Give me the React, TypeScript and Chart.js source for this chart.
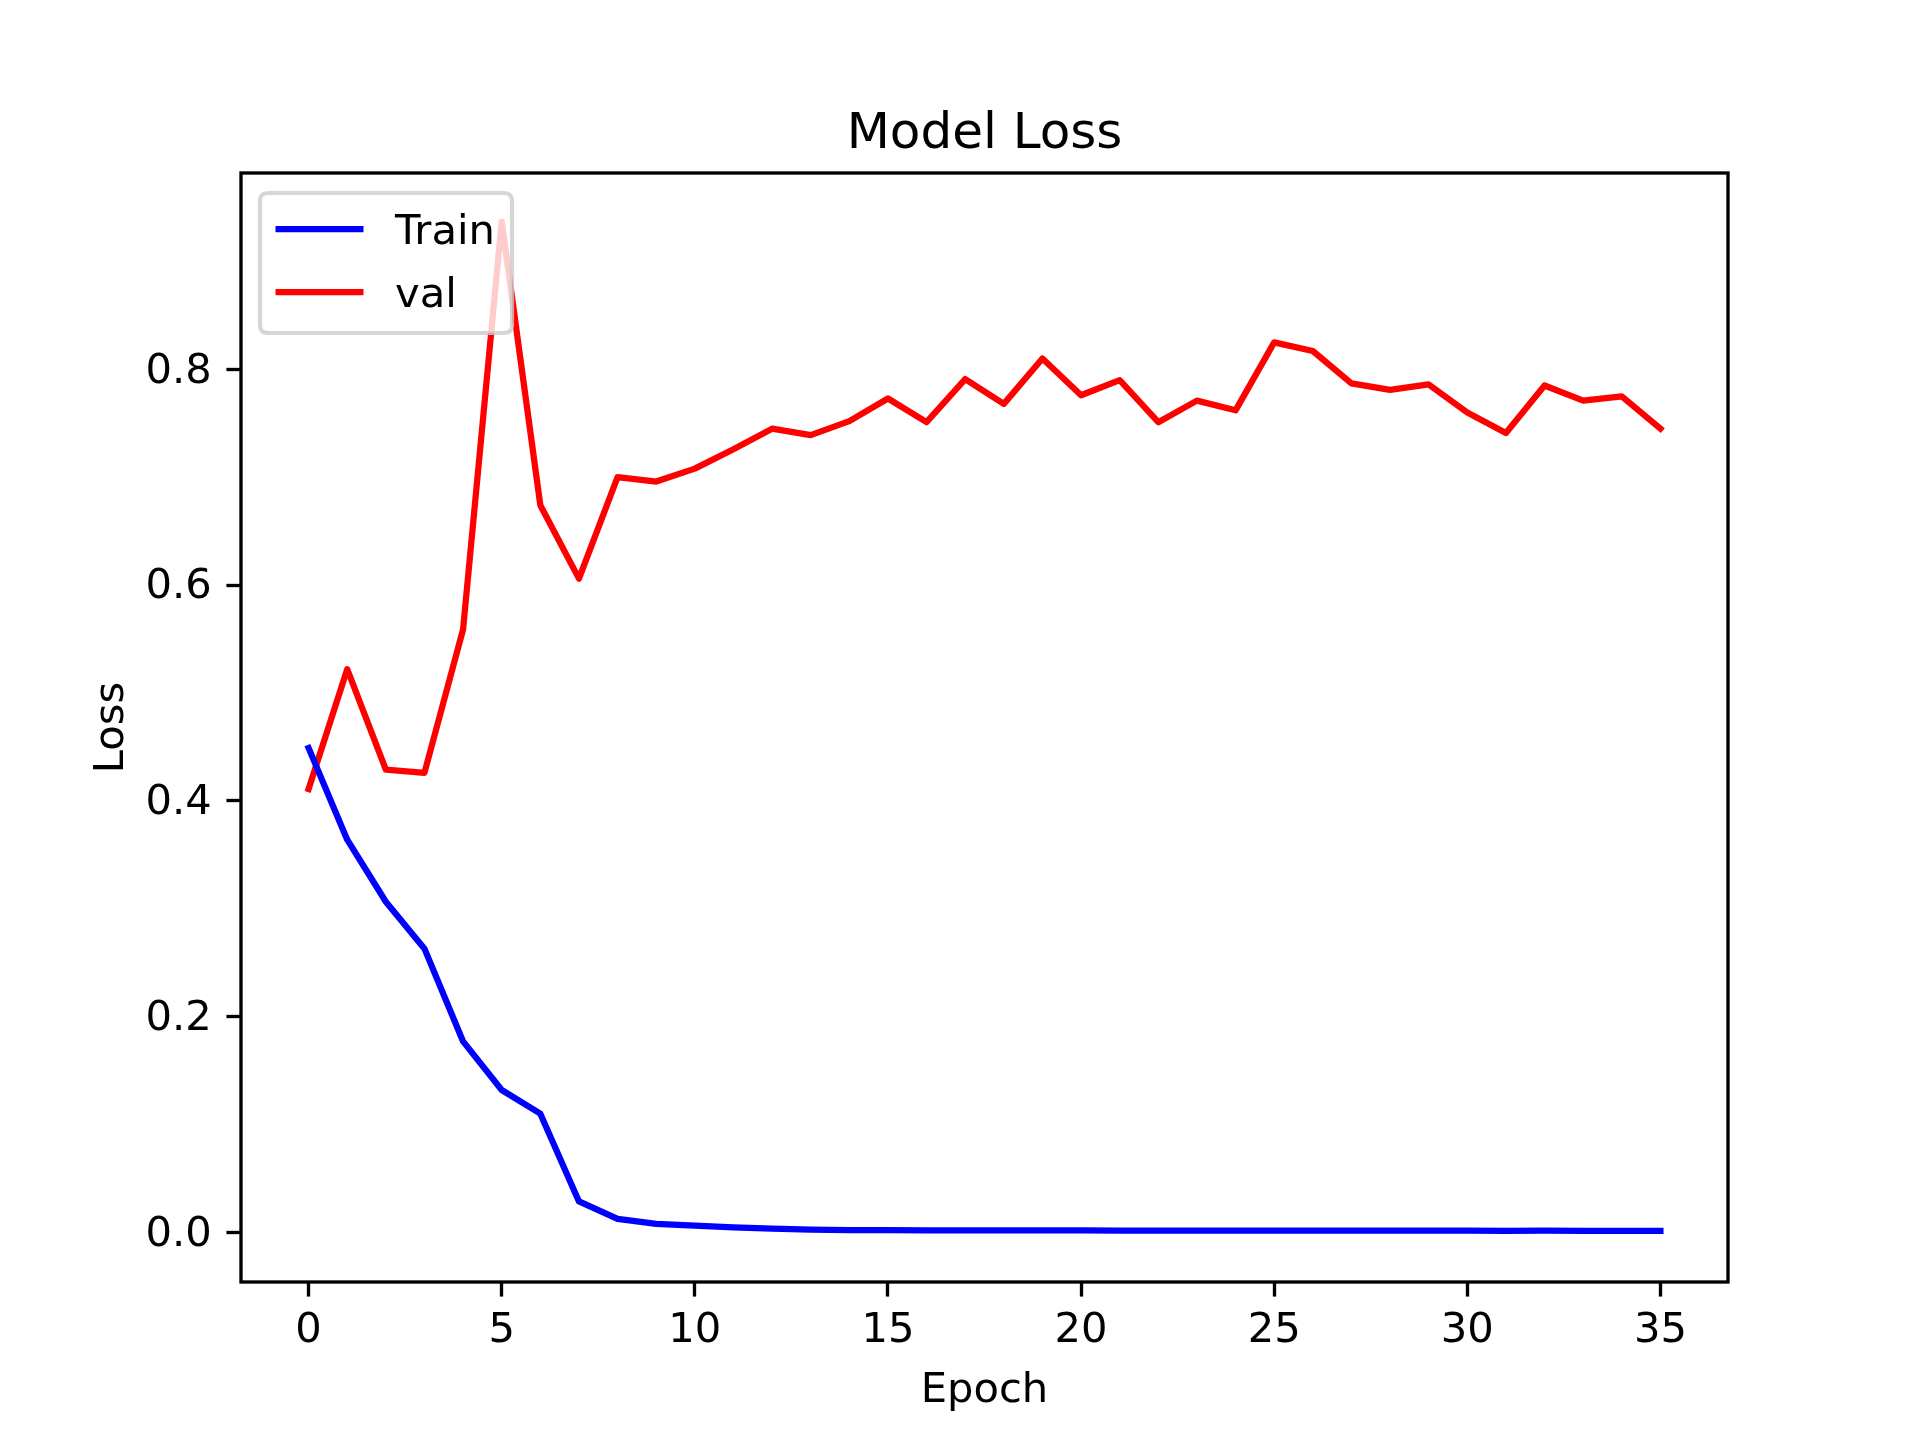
import React, { useEffect, useRef } from "react";
import { Chart, registerables } from "chart.js";

Chart.register(...registerables);

const epochs = [0, 1, 2, 3, 4, 5, 6, 7, 8, 9, 10, 11, 12, 13, 14, 15, 16, 17, 18, 19, 20, 21, 22, 23, 24, 25, 26, 27, 28, 29, 30, 31, 32, 33, 34, 35];
const trainLoss = [0.449, 0.364, 0.3065, 0.263, 0.177, 0.132, 0.110, 0.0287, 0.0125, 0.0078, 0.0062, 0.0046, 0.0034, 0.0025, 0.0022, 0.0020, 0.0019, 0.0019, 0.0018, 0.0018, 0.0018, 0.0017, 0.0017, 0.0017, 0.0017, 0.0016, 0.0016, 0.0016, 0.0016, 0.0016, 0.0016, 0.0015, 0.0016, 0.0015, 0.0015, 0.0015];
const valLoss = [0.411, 0.522, 0.429, 0.426, 0.559, 0.937, 0.674, 0.606, 0.700, 0.696, 0.708, 0.726, 0.745, 0.739, 0.752, 0.773, 0.751, 0.791, 0.768, 0.810, 0.776, 0.790, 0.751, 0.771, 0.762, 0.825, 0.817, 0.787, 0.781, 0.786, 0.760, 0.741, 0.785, 0.771, 0.775, 0.745];
const xTicks = [0, 5, 10, 15, 20, 25, 30, 35];
const yTicks = [0.0, 0.2, 0.4, 0.6, 0.8];
const seriesLabels = ["Train", "val"];
const seriesColors = ["#0000ff", "#ff0000"];
const titleText = "Model Loss";
const xTitle = "Epoch";
const yTitle = "Loss";

const FONT = "'DejaVu Sans', 'Liberation Sans', sans-serif";
const PT = 300 / 72;

const decorPlugin = {
  id: "decor",
  afterDatasetsDraw(chart: any) {
    const ctx = chart.ctx;
    const a = chart.chartArea;
    ctx.save();
    // spines
    ctx.strokeStyle = "#000";
    ctx.lineWidth = 0.8 * PT;
    ctx.strokeRect(a.left, a.top, a.right - a.left, a.bottom - a.top);

    // legend
    const lx = 260, ly = 193, lw = 252, lh = 140, r = 8;
    ctx.beginPath();
    ctx.moveTo(lx + r, ly);
    ctx.lineTo(lx + lw - r, ly);
    ctx.quadraticCurveTo(lx + lw, ly, lx + lw, ly + r);
    ctx.lineTo(lx + lw, ly + lh - r);
    ctx.quadraticCurveTo(lx + lw, ly + lh, lx + lw - r, ly + lh);
    ctx.lineTo(lx + r, ly + lh);
    ctx.quadraticCurveTo(lx, ly + lh, lx, ly + lh - r);
    ctx.lineTo(lx, ly + r);
    ctx.quadraticCurveTo(lx, ly, lx + r, ly);
    ctx.closePath();
    ctx.fillStyle = "rgba(255,255,255,0.8)";
    ctx.fill();
    ctx.strokeStyle = "rgba(204,204,204,0.8)";
    ctx.lineWidth = 1.0 * PT;
    ctx.stroke();

    const rowsY = [229, 292];
    const baseY = [243.5, 306.5];
    chart.data.datasets.forEach((ds: any, i: number) => {
      ctx.beginPath();
      ctx.strokeStyle = ds.borderColor;
      ctx.lineWidth = 1.5 * PT;
      ctx.lineCap = "butt";
      ctx.moveTo(275.5, rowsY[i]);
      ctx.lineTo(363.5, rowsY[i]);
      ctx.stroke();
      ctx.fillStyle = "#000";
      ctx.font = `${10 * PT}px ${FONT}`;
      ctx.textAlign = "left";
      ctx.textBaseline = "alphabetic";
      ctx.fillText(ds.label, 395, baseY[i]);
    });
    ctx.restore();
  },
  afterDraw(chart: any) {
    const ctx = chart.ctx;
    const a = chart.chartArea;
    const cx = (a.left + a.right) / 2;
    const cy = (a.top + a.bottom) / 2;
    ctx.save();
    ctx.fillStyle = "#000";
    ctx.textBaseline = "alphabetic";
    ctx.textAlign = "center";
    ctx.font = `${12 * PT}px ${FONT}`;
    ctx.fillText(titleText, cx, 148);
    ctx.font = `${10 * PT}px ${FONT}`;
    ctx.fillText(xTitle, cx, 1401.5);
    ctx.translate(122.7, cy);
    ctx.rotate(-Math.PI / 2);
    ctx.fillText(yTitle, 0, 0);
    ctx.restore();
  },
};

export default function App() {
  const ref = useRef<HTMLCanvasElement | null>(null);
  useEffect(() => {
    if (!ref.current) return;
    const series = [trainLoss, valLoss];
    const chart = new Chart(ref.current, {
      type: "line",
      data: {
        datasets: series.map((vals, i) => ({
          label: seriesLabels[i],
          data: epochs.map((e, j) => ({ x: e, y: vals[j] })),
          borderColor: seriesColors[i],
          backgroundColor: seriesColors[i],
          borderWidth: 1.5 * PT,
          borderJoinStyle: "round" as const,
          borderCapStyle: "square" as const,
          pointRadius: 0,
          tension: 0,
          fill: false,
        })),
      },
      options: {
        animation: false,
        responsive: false,
        devicePixelRatio: 1,
        layout: { padding: { left: 0, top: 173, right: 192, bottom: 0 } },
        plugins: { legend: { display: false }, title: { display: false }, tooltip: { enabled: false } },
        scales: {
          x: {
            type: "linear",
            min: -1.75,
            max: 36.75,
            afterFit: (s: any) => { s.height = 158; },
            afterBuildTicks: (s: any) => { s.ticks = xTicks.map((v) => ({ value: v })); },
            grid: { display: true, drawOnChartArea: false, drawTicks: true, tickLength: 3.5 * PT, tickWidth: 0.8 * PT, tickColor: "#000" },
            border: { display: false },
            ticks: {
              autoSkip: false,
              maxRotation: 0,
              minRotation: 0,
              padding: 10,
              color: "#000",
              font: { family: FONT, size: 10 * PT },
              callback: (v: any) => String(v),
            },
          },
          y: {
            type: "linear",
            min: -0.046,
            max: 0.982,
            afterFit: (s: any) => { s.width = 241; },
            afterBuildTicks: (s: any) => { s.ticks = yTicks.map((v) => ({ value: v })); },
            grid: { display: true, drawOnChartArea: false, drawTicks: true, tickLength: 3.5 * PT, tickWidth: 0.8 * PT, tickColor: "#000" },
            border: { display: false },
            ticks: {
              autoSkip: false,
              padding: 3.5 * PT,
              labelOffset: 2.5,
              color: "#000",
              font: { family: FONT, size: 10 * PT },
              callback: (v: any) => Number(v).toFixed(1),
            },
          },
        },
      },
      plugins: [decorPlugin],
    } as any);
    return () => chart.destroy();
  }, []);
  return (
    <div style={{ position: "absolute", left: 0, top: 0, width: 1920, height: 1440, background: "#fff" }}>
      <canvas ref={ref} width={1920} height={1440} style={{ display: "block", width: 1920, height: 1440 }} />
    </div>
  );
}
